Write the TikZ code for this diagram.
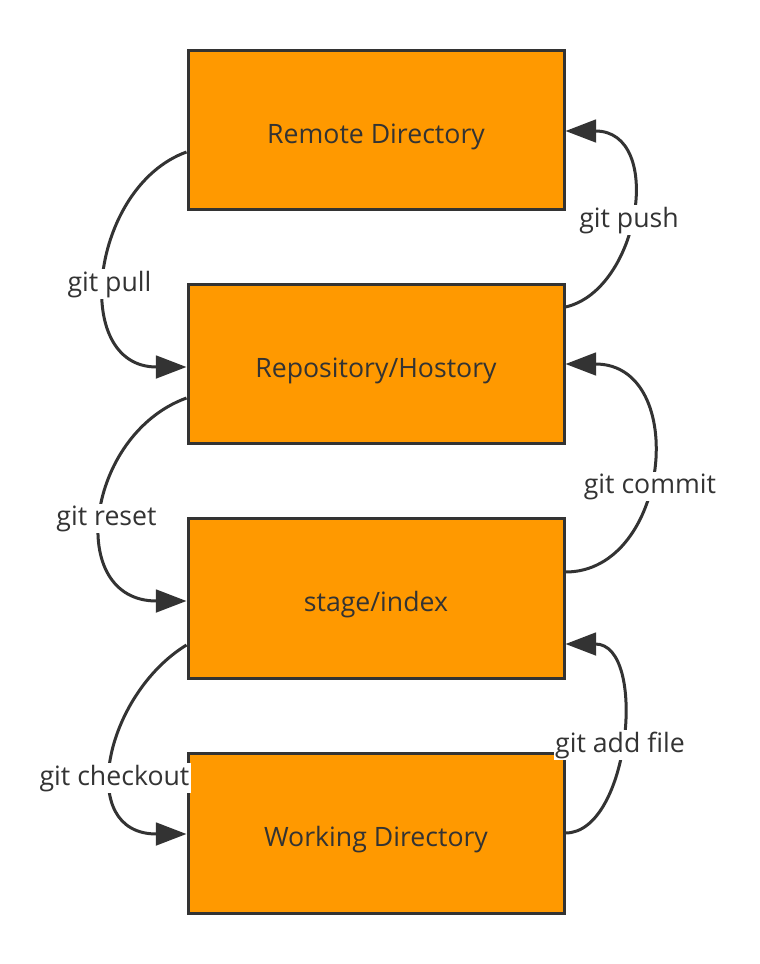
\documentclass[tikz,border=0pt]{standalone}
\usepackage{fontspec}
\setmainfont{Open Sans}
\usetikzlibrary{arrows.meta,calc}
\definecolor{boxfill}{HTML}{FF9900}
\definecolor{ink}{HTML}{333333}
\begin{document}
\begin{tikzpicture}[x=0.75pt,y=-0.75pt,
  box/.style={draw=ink, fill=boxfill, line width=2.25pt, minimum width=282pt, minimum height=119.5pt, inner sep=0pt, text height=19.5pt, text depth=0pt, font=\fontsize{20}{24}\selectfont, text=ink},
  lbl/.style={fill=white, inner sep=1pt, anchor=base, font=\fontsize{20}{24}\selectfont, text=ink},
  link/.style={draw=ink, line width=2.25pt, -{Triangle[length=23pt,width=17pt]}}]
\useasboundingbox (0,0) rectangle (760,964);
\node[box] (remote) at (376,130) {Remote Directory};
\node[box] (repo) at (376,364) {Repository/Hostory};
\node[box] (stage) at (376,598.5) {stage/index};
\node[box] (work) at (376,833.5) {Working Directory};
% left side
\draw[link] ($(remote.west)+(0,22)$) .. controls (90,187) and (70,367) .. ($(repo.west)+(0,3)$);
\draw[link] ($(repo.west)+(0,34)$) .. controls (85,435) and (65,601) .. ($(stage.west)+(0,2.5)$);
\draw[link] ($(stage.west)+(0,46.5)$) .. controls (105,695) and (75,834) .. ($(work.west)+(0,0.5)$);
% right side
\draw[link] ($(repo.east)+(0,-57)$) .. controls (640,290) and (665,131) .. ($(remote.east)+(0,1)$);
\draw[link] ($(stage.east)+(0,-26.5)$) .. controls (670,572) and (690,364) .. (repo.east);
\draw[link] ($(work.east)+(0,-0.5)$) .. controls (630,833) and (648,644) .. ($(stage.east)+(0,45.5)$);
% labels
\node[lbl] (lpush) at (629,227) {git push};
\node[lbl] (lpull) at (109.5,291) {git pull};
\node[lbl] (lcommit) at (650,493) {git commit};
\node[lbl] (lreset) at (106.5,525) {git reset};
\node[lbl] (ladd) at (620,752) {git add file};
\node[lbl] (lcheckout) at (114.5,785) {git checkout};
\end{tikzpicture}
\end{document}
